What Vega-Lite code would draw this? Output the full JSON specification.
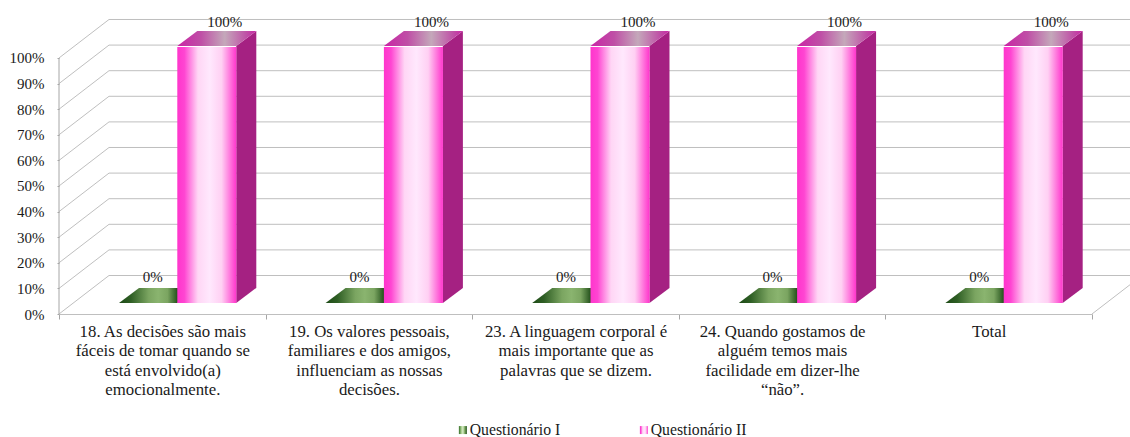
{
"$schema":"https://vega.github.io/schema/vega-lite/v6.json",
"width":1071,"height":295,
"autosize":{"type":"none"},
"padding":{"left":59,"top":19,"right":0,"bottom":123},
"background":"white",
"config":{"view":{"stroke":null},"font":"Liberation Serif"},
"datasets":{
"pct":[{"pct":0},{"pct":10},{"pct":20},{"pct":30},{"pct":40},{"pct":50},{"pct":60},{"pct":70},{"pct":80},{"pct":90},{"pct":100}],
"bars":[
{"cat":"18. As decisões são mais\nfáceis de tomar quando se\nestá envolvido(a)\nemocionalmente.","series":"Questionário I","value":0,"label":"0%"},
{"cat":"18. As decisões são mais\nfáceis de tomar quando se\nestá envolvido(a)\nemocionalmente.","series":"Questionário II","value":100,"label":"100%"},
{"cat":"19. Os valores pessoais,\nfamiliares e dos amigos,\ninfluenciam as nossas\ndecisões.","series":"Questionário I","value":0,"label":"0%"},
{"cat":"19. Os valores pessoais,\nfamiliares e dos amigos,\ninfluenciam as nossas\ndecisões.","series":"Questionário II","value":100,"label":"100%"},
{"cat":"23. A linguagem corporal é\nmais importante que as\npalavras que se dizem.","series":"Questionário I","value":0,"label":"0%"},
{"cat":"23. A linguagem corporal é\nmais importante que as\npalavras que se dizem.","series":"Questionário II","value":100,"label":"100%"},
{"cat":"24. Quando gostamos de\nalguém temos mais\nfacilidade em dizer-lhe\n“não”.","series":"Questionário I","value":0,"label":"0%"},
{"cat":"24. Quando gostamos de\nalguém temos mais\nfacilidade em dizer-lhe\n“não”.","series":"Questionário II","value":100,"label":"100%"},
{"cat":"Total","series":"Questionário I","value":0,"label":"0%"},
{"cat":"Total","series":"Questionário II","value":100,"label":"100%"}
],
"side":[
{"c":0,"u":0.858,"top":104.7,"base":4.3},{"c":0,"u":0.955,"top":110.5,"base":10.2},
{"c":1,"u":1.858,"top":104.7,"base":4.3},{"c":1,"u":1.955,"top":110.5,"base":10.2},
{"c":2,"u":2.858,"top":104.7,"base":4.3},{"c":2,"u":2.955,"top":110.5,"base":10.2},
{"c":3,"u":3.858,"top":104.7,"base":4.3},{"c":3,"u":3.955,"top":110.5,"base":10.2},
{"c":4,"u":4.858,"top":104.7,"base":4.3},{"c":4,"u":4.955,"top":110.5,"base":10.2}
],
"pinkTop":[
{"c":0,"u":0.5726,"top":104.7,"base":104.7},{"c":0,"u":0.6694,"top":110.5,"base":104.7},{"c":0,"u":0.858,"top":110.5,"base":104.7},{"c":0,"u":0.955,"top":110.5,"base":110.5},
{"c":1,"u":1.5726,"top":104.7,"base":104.7},{"c":1,"u":1.6694,"top":110.5,"base":104.7},{"c":1,"u":1.858,"top":110.5,"base":104.7},{"c":1,"u":1.955,"top":110.5,"base":110.5},
{"c":2,"u":2.5726,"top":104.7,"base":104.7},{"c":2,"u":2.6694,"top":110.5,"base":104.7},{"c":2,"u":2.858,"top":110.5,"base":104.7},{"c":2,"u":2.955,"top":110.5,"base":110.5},
{"c":3,"u":3.5726,"top":104.7,"base":104.7},{"c":3,"u":3.6694,"top":110.5,"base":104.7},{"c":3,"u":3.858,"top":110.5,"base":104.7},{"c":3,"u":3.955,"top":110.5,"base":110.5},
{"c":4,"u":4.5726,"top":104.7,"base":104.7},{"c":4,"u":4.6694,"top":110.5,"base":104.7},{"c":4,"u":4.858,"top":110.5,"base":104.7},{"c":4,"u":4.955,"top":110.5,"base":110.5}
],
"greenTop":[
{"c":0,"u":0.2904,"top":4.3,"base":4.3},{"c":0,"u":0.3872,"top":10.2,"base":4.3},{"c":0,"u":0.5726,"top":10.2,"base":4.3},{"c":0,"u":0.6694,"top":10.2,"base":10.2},
{"c":1,"u":1.2904,"top":4.3,"base":4.3},{"c":1,"u":1.3872,"top":10.2,"base":4.3},{"c":1,"u":1.5726,"top":10.2,"base":4.3},{"c":1,"u":1.6694,"top":10.2,"base":10.2},
{"c":2,"u":2.2904,"top":4.3,"base":4.3},{"c":2,"u":2.3872,"top":10.2,"base":4.3},{"c":2,"u":2.5726,"top":10.2,"base":4.3},{"c":2,"u":2.6694,"top":10.2,"base":10.2},
{"c":3,"u":3.2904,"top":4.3,"base":4.3},{"c":3,"u":3.3872,"top":10.2,"base":4.3},{"c":3,"u":3.5726,"top":10.2,"base":4.3},{"c":3,"u":3.6694,"top":10.2,"base":10.2},
{"c":4,"u":4.2904,"top":4.3,"base":4.3},{"c":4,"u":4.3872,"top":10.2,"base":4.3},{"c":4,"u":4.5726,"top":10.2,"base":4.3},{"c":4,"u":4.6694,"top":10.2,"base":10.2}
]
},
"resolve":{"scale":{"x":"independent"},"axis":{"x":"independent"}},
"layer":[
{"data":{"name":"pct"},
 "mark":{"type":"rule","color":"#bfbfbf","strokeWidth":1,"xOffset":50,"x2Offset":50,"yOffset":-38.5,"y2Offset":-38.5},
 "encoding":{
  "x":{"datum":0,"type":"quantitative","scale":{"domain":[0,5.184],"nice":false},"axis":null},
  "x2":{"datum":5.184},
  "y":{"field":"pct","type":"quantitative","scale":{"domain":[0,115.23],"nice":false},
   "axis":{"title":null,"orient":"left","values":[0,10,20,30,40,50,60,70,80,90,100],"labelExpr":"datum.value+'%'","labelOverlap":false,"labelFlush":false,"domain":false,"grid":false,"tickSize":2,"tickColor":"#a6a6a6","labelFont":"Liberation Serif","labelFontSize":15,"labelColor":"#1a1a1a","labelPadding":13}}
 }},
{"data":{"name":"pct"},
 "mark":{"type":"rule","color":"#bfbfbf","strokeWidth":1,"x2Offset":50,"y2Offset":-38.5},
 "encoding":{
  "x":{"datum":0,"type":"quantitative","scale":{"domain":[0,5.184],"nice":false},"axis":null},
  "x2":{"datum":0},
  "y":{"field":"pct","type":"quantitative","axis":{"title":null,"orient":"left","values":[0,10,20,30,40,50,60,70,80,90,100],"labelExpr":"datum.value+'%'","labelOverlap":false,"labelFlush":false,"domain":false,"grid":false,"tickSize":2,"tickColor":"#a6a6a6","labelFont":"Liberation Serif","labelFontSize":15,"labelColor":"#1a1a1a","labelPadding":13}},
  "y2":{"field":"pct"}
 }},
{"data":{"name":"pct"},
 "transform":[{"filter":"datum.pct===0"}],
 "mark":{"type":"rule","color":"#bfbfbf","strokeWidth":1,"x2Offset":50,"y2Offset":-38.5},
 "encoding":{
  "x":{"datum":5,"type":"quantitative","scale":{"domain":[0,5.184],"nice":false},"axis":null},
  "x2":{"datum":5},
  "y":{"field":"pct","type":"quantitative","axis":{"title":null,"orient":"left","values":[0,10,20,30,40,50,60,70,80,90,100],"labelExpr":"datum.value+'%'","labelOverlap":false,"labelFlush":false,"domain":false,"grid":false,"tickSize":2,"tickColor":"#a6a6a6","labelFont":"Liberation Serif","labelFontSize":15,"labelColor":"#1a1a1a","labelPadding":13}},
  "y2":{"field":"pct"}
 }},
{"data":{"values":[{"a":0,"b":100}]},
 "mark":{"type":"rule","color":"#a6a6a6","strokeWidth":1},
 "encoding":{
  "x":{"datum":0,"type":"quantitative","scale":{"domain":[0,5.184],"nice":false},"axis":null},
  "y":{"field":"a","type":"quantitative","axis":{"title":null,"orient":"left","values":[0,10,20,30,40,50,60,70,80,90,100],"labelExpr":"datum.value+'%'","labelOverlap":false,"labelFlush":false,"domain":false,"grid":false,"tickSize":2,"tickColor":"#a6a6a6","labelFont":"Liberation Serif","labelFontSize":15,"labelColor":"#1a1a1a","labelPadding":13}},
  "y2":{"field":"b"}
 }},
{"data":{"name":"greenTop"},
 "mark":{"type":"area","interpolate":"linear","color":{"gradient":"linear","x1":0,"y1":0,"x2":1,"y2":0,"stops":[{"offset":0,"color":"#1d4a16"},{"offset":0.15,"color":"#2e5e24"},{"offset":0.38,"color":"#7ba561"},{"offset":0.5,"color":"#8ab46f"},{"offset":0.62,"color":"#7ba561"},{"offset":0.75,"color":"#214f1a"},{"offset":1,"color":"#214f1a"}]}},
 "encoding":{
  "x":{"field":"u","type":"quantitative","scale":{"domain":[0,5.184],"nice":false},"axis":null},
  "y":{"field":"top","type":"quantitative","axis":{"title":null,"orient":"left","values":[0,10,20,30,40,50,60,70,80,90,100],"labelExpr":"datum.value+'%'","labelOverlap":false,"labelFlush":false,"domain":false,"grid":false,"tickSize":2,"tickColor":"#a6a6a6","labelFont":"Liberation Serif","labelFontSize":15,"labelColor":"#1a1a1a","labelPadding":13}},"y2":{"field":"base"},"detail":{"field":"c"}
 }},
{"data":{"name":"side"},
 "mark":{"type":"area","interpolate":"linear","color":"#a52182"},
 "encoding":{
  "x":{"field":"u","type":"quantitative","scale":{"domain":[0,5.184],"nice":false},"axis":null},
  "y":{"field":"top","type":"quantitative","axis":{"title":null,"orient":"left","values":[0,10,20,30,40,50,60,70,80,90,100],"labelExpr":"datum.value+'%'","labelOverlap":false,"labelFlush":false,"domain":false,"grid":false,"tickSize":2,"tickColor":"#a6a6a6","labelFont":"Liberation Serif","labelFontSize":15,"labelColor":"#1a1a1a","labelPadding":13}},"y2":{"field":"base"},"detail":{"field":"c"}
 }},
{"data":{"name":"pinkTop"},
 "mark":{"type":"area","interpolate":"linear","color":{"gradient":"linear","x1":0,"y1":0,"x2":1,"y2":0,"stops":[{"offset":0,"color":"#c925a5"},{"offset":0.3,"color":"#bf4fa6"},{"offset":0.6,"color":"#c4a8ba"},{"offset":0.88,"color":"#bf4fa6"},{"offset":1,"color":"#c925a5"}]}},
 "encoding":{
  "x":{"field":"u","type":"quantitative","scale":{"domain":[0,5.184],"nice":false},"axis":null},
  "y":{"field":"top","type":"quantitative","axis":{"title":null,"orient":"left","values":[0,10,20,30,40,50,60,70,80,90,100],"labelExpr":"datum.value+'%'","labelOverlap":false,"labelFlush":false,"domain":false,"grid":false,"tickSize":2,"tickColor":"#a6a6a6","labelFont":"Liberation Serif","labelFontSize":15,"labelColor":"#1a1a1a","labelPadding":13}},"y2":{"field":"base"},"detail":{"field":"c"}
 }},
{"data":{"name":"bars"},
 "mark":{"type":"bar","yOffset":-11,"y2Offset":-11},
 "encoding":{
  "x":{"field":"cat","type":"nominal","sort":null,"scale":{"type":"band","range":[0,1033],"paddingInner":0,"paddingOuter":0},
   "axis":{"title":null,"orient":"bottom","labelAngle":0,"tickBand":"extent","tickSize":5,"tickColor":"#a6a6a6","domainColor":"#bfbfbf","labelExpr":"split(datum.label,'\\n')","labelFont":"Liberation Serif","labelFontSize":16.8,"labelColor":"#1a1a1a","labelLimit":0,"labelLineHeight":19.6,"labelPadding":4,"labelBaseline":"top","grid":false}},
  "xOffset":{"field":"series","type":"nominal","scale":{"type":"band","domain":["Questionário I","Questionário II"],"range":[15,221.6],"paddingInner":0,"paddingOuter":0.75}},
  "y":{"field":"value","type":"quantitative","axis":{"title":null,"orient":"left","values":[0,10,20,30,40,50,60,70,80,90,100],"labelExpr":"datum.value+'%'","labelOverlap":false,"labelFlush":false,"domain":false,"grid":false,"tickSize":2,"tickColor":"#a6a6a6","labelFont":"Liberation Serif","labelFontSize":15,"labelColor":"#1a1a1a","labelPadding":13}},
  "y2":{"datum":0},
  "color":{"field":"series","type":"nominal","scale":{"domain":["Questionário I","Questionário II"],"range":[
    {"expr":"{gradient:'linear',x1:0,y1:0,x2:1,y2:0,stops:[{offset:0,color:'#2f6b22'},{offset:0.3,color:'#a8cf8e'},{offset:0.5,color:'#d9ecc9'},{offset:0.7,color:'#8ab46f'},{offset:1,color:'#1f4f18'}]}"},
    {"expr":"{gradient:'linear',x1:0,y1:0,x2:1,y2:0,stops:[{offset:0,color:'#ff35cc'},{offset:0.12,color:'#ff45d2'},{offset:0.35,color:'#ffd6f5'},{offset:0.55,color:'#ffe8fd'},{offset:0.75,color:'#ffd0f3'},{offset:1,color:'#ff35cc'}]}"}
   ]},
   "legend":{"title":null,"orient":"none","legendX":396,"legendY":403,"direction":"horizontal","columns":2,"columnPadding":75,"symbolType":"square","symbolSize":64,"symbolStrokeWidth":0,"labelFont":"Liberation Serif","labelFontSize":15.75,"labelColor":"#1a1a1a","labelOffset":-1,"labelLimit":300,"padding":0}}
 }},
{"data":{"name":"bars"},
 "transform":[{"filter":"datum.value>0"}],
 "mark":{"type":"text","font":"Liberation Serif","fontSize":15,"color":"#1a1a1a","dx":18,"dy":-36},
 "encoding":{
  "x":{"field":"cat","type":"nominal","sort":null,"scale":{"type":"band","range":[0,1033],"paddingInner":0,"paddingOuter":0},"axis":null},
  "xOffset":{"field":"series","type":"nominal","scale":{"type":"band","domain":["Questionário I","Questionário II"],"paddingInner":0,"paddingOuter":0.75}},
  "y":{"field":"value","type":"quantitative","axis":{"title":null,"orient":"left","values":[0,10,20,30,40,50,60,70,80,90,100],"labelExpr":"datum.value+'%'","labelOverlap":false,"labelFlush":false,"domain":false,"grid":false,"tickSize":2,"tickColor":"#a6a6a6","labelFont":"Liberation Serif","labelFontSize":15,"labelColor":"#1a1a1a","labelPadding":13}},
  "text":{"field":"label"}
 }}
,
{"data":{"name":"bars"},
 "transform":[{"filter":"datum.value===0"}],
 "mark":{"type":"text","font":"Liberation Serif","fontSize":15,"color":"#1a1a1a","dx":5,"dy":-37},
 "encoding":{
  "x":{"field":"cat","type":"nominal","sort":null,"scale":{"type":"band","range":[0,1033],"paddingInner":0,"paddingOuter":0},"axis":null},
  "xOffset":{"field":"series","type":"nominal","scale":{"type":"band","domain":["Questionário I","Questionário II"],"paddingInner":0,"paddingOuter":0.75}},
  "y":{"field":"value","type":"quantitative","axis":{"title":null,"orient":"left","values":[0,10,20,30,40,50,60,70,80,90,100],"labelExpr":"datum.value+'%'","labelOverlap":false,"labelFlush":false,"domain":false,"grid":false,"tickSize":2,"tickColor":"#a6a6a6","labelFont":"Liberation Serif","labelFontSize":15,"labelColor":"#1a1a1a","labelPadding":13}},
  "text":{"field":"label"}
 }}
]
}
